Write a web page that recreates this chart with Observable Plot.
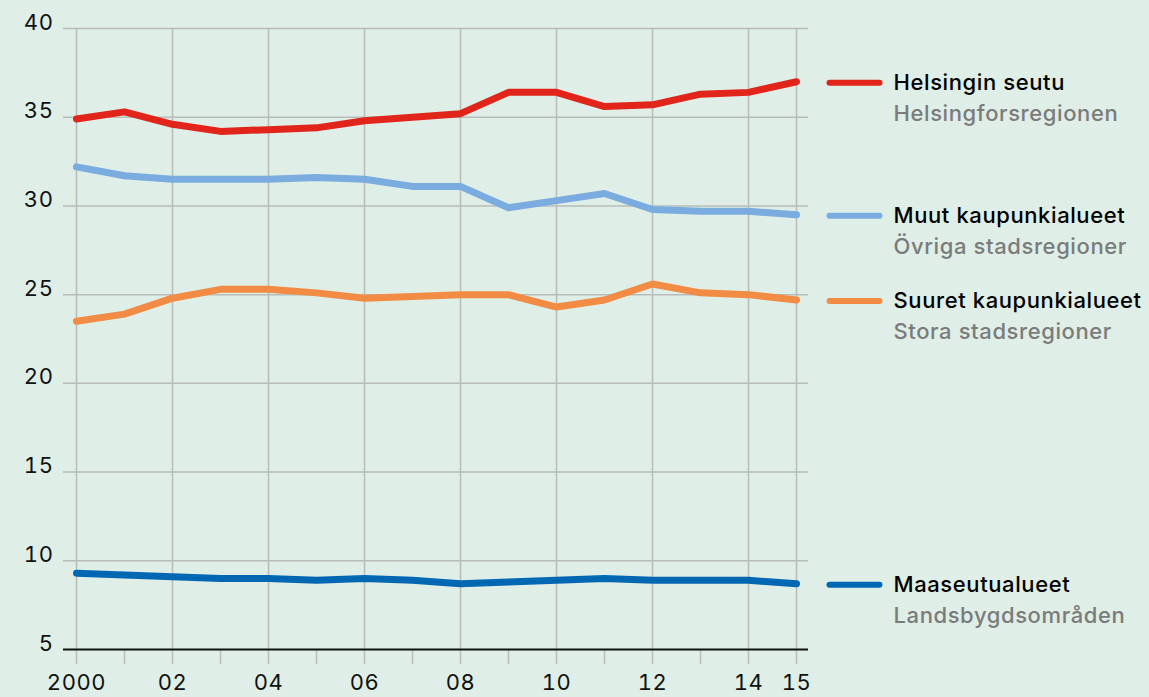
<!DOCTYPE html>
<html>
<head>
<meta charset="utf-8">
<script src="https://cdn.jsdelivr.net/npm/d3@7"></script>
<script src="https://cdn.jsdelivr.net/npm/@observablehq/plot@0.6"></script>
<style>
  html, body { margin: 0; padding: 0; background: #dfeee6; }
  #chart svg { display: block; }
  #chart svg g[aria-label="y-axis tick label"] text,
  #chart svg g[aria-label="x-axis tick label"] text { letter-spacing: 0.6px; }
  #chart svg g.legend-text text { letter-spacing: 0.6px; }
</style>
</head>
<body>
<div id="chart"></div>
<script>
const years = [2000,2001,2002,2003,2004,2005,2006,2007,2008,2009,2010,2011,2012,2013,2014,2015];
const helsinki = [34.9,35.3,34.6,34.2,34.3,34.4,34.8,35.0,35.2,36.4,36.4,35.6,35.7,36.3,36.4,37.0];
const muut     = [32.2,31.7,31.5,31.5,31.5,31.6,31.5,31.1,31.1,29.9,30.3,30.7,29.8,29.7,29.7,29.5];
const suuret   = [23.5,23.9,24.8,25.3,25.3,25.1,24.8,24.9,25.0,25.0,24.3,24.7,25.6,25.1,25.0,24.7];
const maaseutu = [9.3,9.2,9.1,9.0,9.0,8.9,9.0,8.9,8.7,8.8,8.9,9.0,8.9,8.9,8.9,8.7];

const seriesNames = ["Helsingin seutu","Muut kaupunkialueet","Suuret kaupunkialueet","Maaseutualueet"];
const seriesSub = ["Helsingforsregionen","Övriga stadsregioner","Stora stadsregioner","Landsbygdsområden"];
const seriesColors = ["#e1251b","#7aacdf","#f28c45","#0068b3"];
const seriesValues = [helsinki, muut, suuret, maaseutu];

const xTickYears = [2000,2002,2004,2006,2008,2010,2012,2014,2015];
const xTickLabels = ["2000","02","04","06","08","10","12","14","15"];
const yTicks = [5,10,15,20,25,30,35,40];

const rows = [];
seriesNames.forEach((name, i) => {
  years.forEach((yr, j) => rows.push({series: name, year: yr, value: seriesValues[i][j]}));
});
const last = seriesNames.map((name, i) => ({
  series: name, sub: seriesSub[i], color: seriesColors[i],
  year: years[years.length - 1], value: seriesValues[i][years.length - 1]
}));

const lineSymbol = {
  draw(context) { context.moveTo(-25, 0); context.lineTo(25, 0); }
};

const font = "Inter, 'Noto Sans', sans-serif";

const chart = Plot.plot({
  width: 1149,
  height: 697,
  marginLeft: 76,
  marginRight: 353,
  marginTop: 28,
  marginBottom: 48,
  style: {background: "#dfeee6", fontFamily: font, color: "#111"},
  x: {domain: [2000, 2015]},
  y: {domain: [5, 40]},
  color: {domain: seriesNames, range: seriesColors},
  marks: [
    Plot.ruleY(yTicks.filter(d => d !== 5), {stroke: "#b9bdba", strokeWidth: 1.5, insetLeft: -13, insetRight: -12}),
    Plot.ruleX(xTickYears, {stroke: "#b9bdba", strokeWidth: 1.5}),
    Plot.axisX({ticks: years, tickSize: 15, tickFormat: () => "", stroke: "#b9bdba", strokeWidth: 1.5, label: null}),
    Plot.axisX({ticks: xTickYears, tickSize: 0, tickPadding: 25, tickFormat: d => xTickLabels[xTickYears.indexOf(d)], fontSize: 22, fill: "#111", label: null}),
    Plot.axisY({ticks: yTicks, tickSize: 0, tickPadding: 23, dy: -6, fontSize: 22, fill: "#111", label: null}),
    Plot.ruleY([5], {stroke: "#111", strokeWidth: 2, insetLeft: -13, insetRight: -12}),
    Plot.line(rows, {x: "year", y: "value", z: "series", stroke: "series", strokeWidth: 7, strokeLinejoin: "round", strokeLinecap: "round"}),
    Plot.dot(last, {x: "year", y: "value", symbol: lineSymbol, stroke: "color", fill: "none", strokeWidth: 6, strokeLinecap: "round", dx: 58, dy: 1}),
    Plot.text(last, {x: "year", y: "value", text: "series", textAnchor: "start", dx: 97, dy: 1, fontSize: 22, fontWeight: 500, fill: "#000", className: "legend-text"}),
    Plot.text(last, {x: "year", y: "value", text: "sub", textAnchor: "start", dx: 97, dy: 32, fontSize: 22, fontWeight: 500, fill: "#7b7b7b", className: "legend-text"})
  ]
});
document.getElementById("chart").appendChild(chart);
</script>
</body>
</html>
